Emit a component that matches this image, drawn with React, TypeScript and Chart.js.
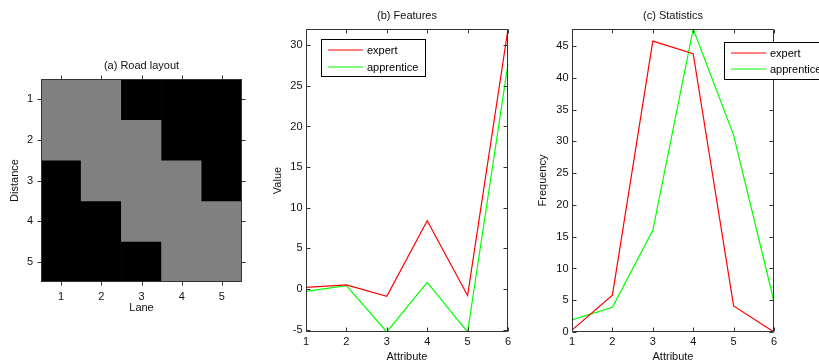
import React, { useEffect, useRef } from 'react';
import { Chart, registerables } from 'chart.js';

Chart.register(...registerables);

// ---------- data ----------
const lanes = ['1', '2', '3', '4', '5'];
const distances = [1, 2, 3, 4, 5];
// 1 = road (gray), 0 = off-road (black); rows = distance 1..5, cols = lane 1..5
const roadLayout = [
  [1, 1, 0, 0, 0],
  [1, 1, 1, 0, 0],
  [0, 1, 1, 1, 0],
  [0, 0, 1, 1, 1],
  [0, 0, 0, 1, 1],
];

const attributes = ['1', '2', '3', '4', '5', '6'];
const featuresExpert = [0.2, 0.5, -0.9, 8.4, -0.8, 32.0];
const featuresApprentice = [-0.3, 0.4, -5.3, 0.8, -5.3, 27.7];
const statsExpert = [0.3, 5.8, 45.8, 43.8, 4.1, 0.0];
const statsApprentice = [1.9, 3.9, 16.0, 47.7, 31.0, 4.8];

const seriesNames = ['expert', 'apprentice'];
const seriesColors = ['#ff0000', '#00ff00'];

// ---------- style ----------
const FONT = "'Liberation Sans', Arial, Helvetica, sans-serif";
const TEXT = '#111111';
const font11 = { family: FONT, size: 11, weight: 'normal' as const, lineHeight: 1.2 };

const matlabFrame = {
  id: 'matlabFrame',
  afterDraw(chart: any, _args: any, opts: any) {
    const { ctx, chartArea: a } = chart;
    const xs = chart.scales.x;
    const ys = chart.scales.y;
    const len = opts.tickLen ?? 4;
    const dir = opts.tickDir === 'out' ? -1 : 1;
    const L = a.left + 0.5;
    const R = a.right - 0.5;
    const T = a.top + 0.5;
    const B = a.bottom - 0.5;
    ctx.save();
    ctx.lineWidth = 1;
    ctx.strokeStyle = opts.color || '#333';
    ctx.beginPath();
    ctx.rect(L, T, R - L, B - T);
    ctx.stroke();
    ctx.beginPath();
    xs.ticks.forEach((_t: any, i: number) => {
      const px = Math.round(xs.getPixelForTick(i)) + 0.5;
      ctx.moveTo(px, B);
      ctx.lineTo(px, B - dir * len);
      ctx.moveTo(px, T);
      ctx.lineTo(px, T + dir * len);
    });
    ys.ticks.forEach((_t: any, i: number) => {
      const py = Math.round(ys.getPixelForTick(i)) + 0.5;
      ctx.moveTo(L, py);
      ctx.lineTo(L + dir * len, py);
      ctx.moveTo(R, py);
      ctx.lineTo(R - dir * len, py);
    });
    ctx.stroke();

    const lg = opts.legend;
    if (lg) {
      ctx.fillStyle = '#ffffff';
      ctx.fillRect(lg.x, lg.y, lg.w, lg.h);
      ctx.strokeStyle = '#000000';
      ctx.strokeRect(lg.x + 0.5, lg.y + 0.5, lg.w - 1, lg.h - 1);
      ctx.font = `11px ${FONT}`;
      ctx.textBaseline = 'middle';
      ctx.textAlign = 'left';
      chart.data.datasets.forEach((ds: any, i: number) => {
        const y = Math.round(lg.y + lg.rows[i]);
        ctx.strokeStyle = seriesColors[i];
        ctx.lineWidth = 1.2;
        ctx.beginPath();
        ctx.moveTo(lg.x + 7, y);
        ctx.lineTo(lg.x + 42, y);
        ctx.stroke();
        ctx.fillStyle = '#000000';
        ctx.fillText(ds.label, lg.x + 46, y + 0.5);
      });
    }
    ctx.restore();
  },
};

function lineConfig(
  title: string,
  yTitle: string,
  expert: number[],
  apprentice: number[],
  yMin: number,
  yMax: number,
  yWidth: number,
  yTitlePad: number,
  padRight: number,
  legend: any
) {
  return {
    type: 'line',
    data: {
      labels: attributes,
      datasets: [
        { label: seriesNames[0], data: expert, borderColor: seriesColors[0], backgroundColor: seriesColors[0], borderWidth: 1.2, pointRadius: 0, tension: 0, fill: false },
        { label: seriesNames[1], data: apprentice, borderColor: seriesColors[1], backgroundColor: seriesColors[1], borderWidth: 1.2, pointRadius: 0, tension: 0, fill: false },
      ],
    },
    options: {
      responsive: false,
      animation: false,
      devicePixelRatio: 1,
      layout: { padding: { left: 0, right: padRight, top: 0, bottom: 0 } },
      plugins: {
        legend: { display: false },
        tooltip: { enabled: false },
        title: { display: true, text: title, font: font11, color: TEXT, padding: { top: 9.4, bottom: 6.4 }, fullSize: false },
        matlabFrame: { tickDir: 'in', tickLen: 4, color: '#333333', legend },
      },
      scales: {
        x: {
          type: 'category',
          offset: false,
          grid: { display: false, drawTicks: false },
          border: { display: false },
          ticks: { padding: 3.4, font: font11, color: TEXT, maxRotation: 0, autoSkip: false },
          title: { display: true, text: 'Attribute', font: font11, color: TEXT, padding: { top: 0, bottom: 6.4 } },
          afterFit: (s: any) => { s.height = 38; },
        },
        y: {
          type: 'linear',
          min: yMin,
          max: yMax,
          grid: { display: false, drawTicks: false },
          border: { display: false },
          ticks: { stepSize: 5, includeBounds: false, padding: 3.5, font: font11, color: TEXT },
          title: { display: true, text: yTitle, font: font11, color: TEXT, padding: { top: yTitlePad, bottom: 0 } },
          afterFit: (s: any) => { s.width = yWidth; },
        },
      },
    },
    plugins: [matlabFrame],
  };
}

function roadConfig() {
  return {
    type: 'bar',
    data: {
      labels: lanes,
      datasets: distances.map((d, r) => ({
        label: `Distance ${d}`,
        data: lanes.map(() => [d - 0.5, d + 0.5]),
        backgroundColor: roadLayout[r].map((v) => (v ? '#808080' : '#000000')),
        borderWidth: 0,
        grouped: false,
        barPercentage: 1,
        categoryPercentage: 1,
      })),
    },
    options: {
      responsive: false,
      animation: false,
      devicePixelRatio: 1,
      layout: { padding: { left: 0, right: 20, top: 0, bottom: 0 } },
      plugins: {
        legend: { display: false },
        tooltip: { enabled: false },
        title: { display: true, text: '(a) Road layout', font: font11, color: TEXT, padding: { top: 59.4, bottom: 6.4 }, fullSize: false },
        matlabFrame: { tickDir: 'out', tickLen: 4, color: '#333333' },
      },
      scales: {
        x: {
          type: 'category',
          offset: true,
          grid: { display: false, drawTicks: false },
          border: { display: false },
          ticks: { padding: 8.4, font: font11, color: TEXT, maxRotation: 0, autoSkip: false },
          title: { display: true, text: 'Lane', font: font11, color: TEXT, padding: { top: 0, bottom: 46.6 } },
          afterFit: (s: any) => { s.height = 79; },
        },
        y: {
          type: 'linear',
          reverse: true,
          min: 0.5,
          max: 5.5,
          grid: { display: false, drawTicks: false },
          border: { display: false },
          ticks: { padding: 8, font: font11, color: TEXT },
          afterBuildTicks: (s: any) => { s.ticks = distances.map((v) => ({ value: v })); },
          title: { display: true, text: 'Distance', font: font11, color: TEXT, padding: { top: 8.4, bottom: 0 } },
          afterFit: (s: any) => { s.width = 41; },
        },
      },
    },
    plugins: [matlabFrame],
  };
}

function ChartCanvas({ make, left, width, height }: { make: () => any; left: number; width: number; height: number }) {
  const ref = useRef<HTMLCanvasElement | null>(null);
  useEffect(() => {
    if (!ref.current) return;
    const chart = new Chart(ref.current, make());
    return () => chart.destroy();
  }, []);
  return (
    <canvas
      ref={ref}
      width={width}
      height={height}
      style={{ position: 'absolute', left, top: 0, width, height }}
    />
  );
}

export default function App() {
  return (
    <div
      style={{
        position: 'fixed',
        left: 0,
        top: 0,
        width: 819,
        height: 361,
        overflow: 'hidden',
        background: '#ffffff',
      }}
    >
      <ChartCanvas make={roadConfig} left={0} width={262} height={361} />
      <ChartCanvas
        make={() =>
          lineConfig('(b) Features', 'Value', featuresExpert, featuresApprentice, -5.3, 32, 44, 9.4, 24, {
            x: 59, y: 39, w: 105, h: 38, rows: [10.5, 27.5],
          })
        }
        left={262}
        width={270}
        height={370}
      />
      <ChartCanvas
        make={() =>
          lineConfig('(c) Statistics', 'Frequency', statsExpert, statsApprentice, 0, 47.7, 40, 4.4, 45, {
            x: 192, y: 42, w: 110, h: 38, rows: [10.5, 26.5],
          })
        }
        left={532}
        width={287}
        height={370}
      />
    </div>
  );
}
